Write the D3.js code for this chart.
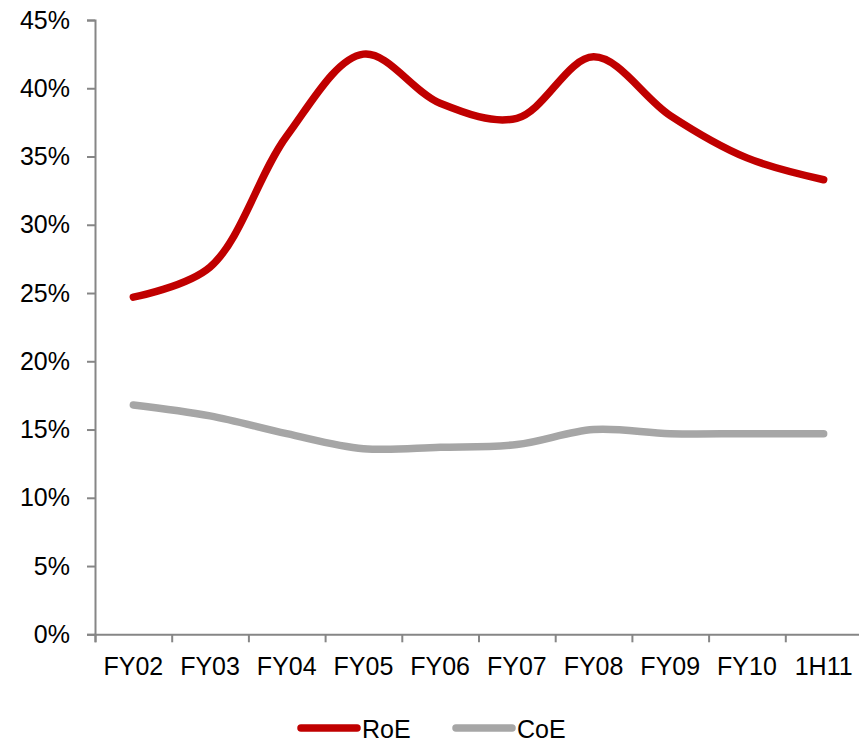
<!DOCTYPE html>
<html>
<head>
<meta charset="utf-8">
<script src="https://cdn.jsdelivr.net/npm/d3@7"></script>
<style>
  html, body { margin: 0; padding: 0; background: #fff; }
  svg { display: block; }
  text { font-family: "Liberation Sans", Arial, Helvetica, sans-serif; fill: #000; }
</style>
</head>
<body>
<svg id="chart" width="859" height="743"></svg>
<script>
const categories = ["FY02", "FY03", "FY04", "FY05", "FY06", "FY07", "FY08", "FY09", "FY10", "1H11"];
const roe = [24.7, 26.9, 36.5, 42.5, 38.9, 37.8, 42.3, 38.0, 34.9, 33.3];
const coe = [16.8, 16.0, 14.7, 13.6, 13.7, 13.9, 15.0, 14.7, 14.7, 14.7];
const yTicks = [0, 5, 10, 15, 20, 25, 30, 35, 40, 45];
const seriesNames = ["RoE", "CoE"];
const seriesColors = ["#C00000", "#A6A6A6"];

(function () {
const svg = d3.select("#chart");
const plotLeft = 95, plotRight = 862, plotTop = 20, plotBottom = 634.3;

const x = d3.scaleBand().domain(categories).range([plotLeft, plotRight]).padding(0);
const xEdge = d3.scaleLinear().domain([0, categories.length]).range([plotLeft, plotRight]);
const y = d3.scaleLinear().domain([0, 45]).range([plotBottom, plotTop]);

const axisColor = "#868686";
const fontSize = 25;

// Y axis
const gy = svg.append("g").attr("transform", `translate(${plotLeft},0)`)
  .call(d3.axisLeft(y).tickValues(yTicks).tickSize(8).tickPadding(17).tickFormat(d => d + "%"));
gy.select(".domain").attr("stroke", axisColor).attr("stroke-width", 2);
gy.selectAll(".tick line").attr("stroke", axisColor).attr("stroke-width", 2);
gy.selectAll(".tick text").attr("font-size", fontSize).attr("font-family", "Liberation Sans, Arial, sans-serif").attr("fill", "#000");

// X axis: ticks at category boundaries
const gx = svg.append("g").attr("transform", `translate(0,${plotBottom})`)
  .call(d3.axisBottom(xEdge).tickValues(d3.range(0, categories.length + 1)).tickSize(8).tickFormat(""));
gx.select(".domain").attr("stroke", axisColor).attr("stroke-width", 2);
gx.selectAll(".tick line").attr("stroke", axisColor).attr("stroke-width", 2);

// X labels
svg.append("g").selectAll("text").data(categories).join("text")
  .attr("x", d => x(d) + x.bandwidth() / 2)
  .attr("y", 675)
  .attr("text-anchor", "middle")
  .attr("font-size", fontSize)
  .text(d => d);

// Lines
const line = d3.line()
  .x((d, i) => x(categories[i]) + x.bandwidth() / 2)
  .y(d => y(d))
  .curve(d3.curveCatmullRom.alpha(0.5));

const series = [coe, roe];
const seriesCol = [seriesColors[1], seriesColors[0]];
svg.append("g").selectAll("path").data(series).join("path")
  .attr("d", d => line(d))
  .attr("fill", "none")
  .attr("stroke", (d, i) => seriesCol[i])
  .attr("stroke-width", 7.5)
  .attr("stroke-linecap", "round")
  .attr("stroke-linejoin", "round");

// Legend
const legendX = [301, 456];
const lg = svg.append("g");
seriesNames.forEach((name, i) => {
  lg.append("line")
    .attr("x1", legendX[i]).attr("x2", legendX[i] + 56)
    .attr("y1", 728).attr("y2", 728)
    .attr("stroke", seriesColors[i]).attr("stroke-width", 7.5)
    .attr("stroke-linecap", "round");
  lg.append("text")
    .attr("x", legendX[i] + 61).attr("y", 738)
    .attr("font-size", fontSize)
    .text(name);
});
})();
</script>
</body>
</html>
